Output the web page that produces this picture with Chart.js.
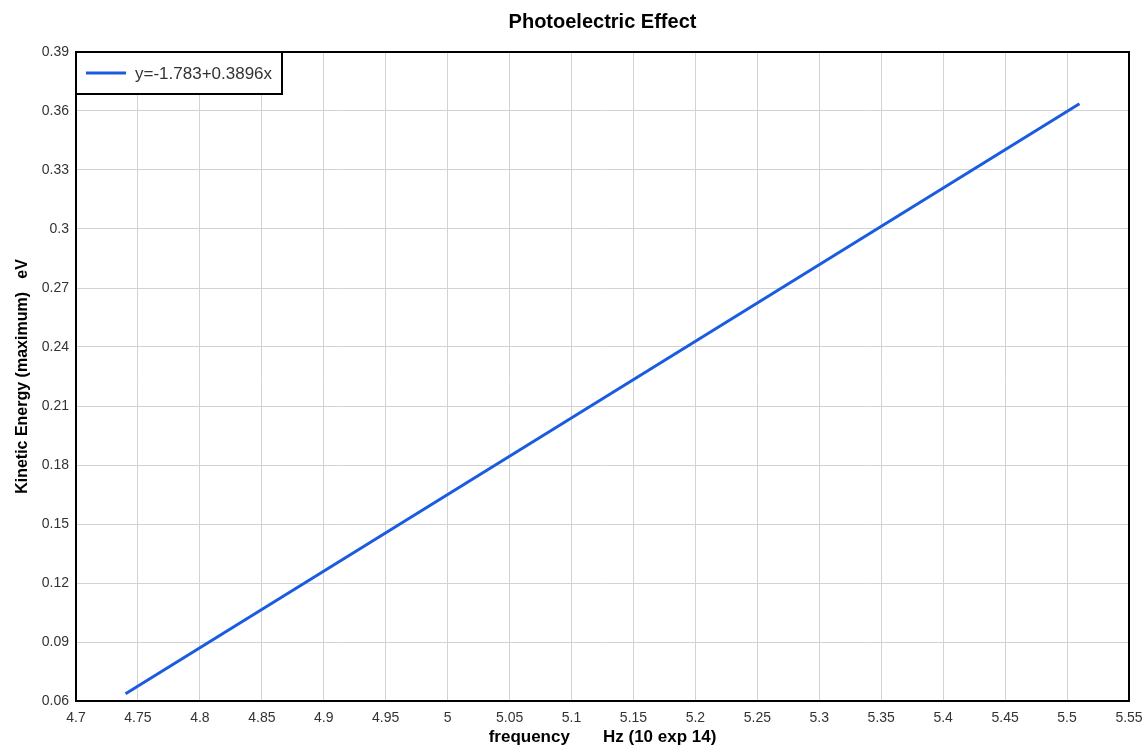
<!DOCTYPE html>
<html>
<head>
<meta charset="utf-8">
<script src="https://cdn.jsdelivr.net/npm/chart.js@4.4.1/dist/chart.umd.min.js"></script>
<style>
  html, body { margin:0; padding:0; background:#fff; }
  #wrap { width:1143px; height:746px; }
</style>
</head>
<body>
<div id="wrap"><canvas id="chart" width="1143" height="746"></canvas></div>
<script>
// Photoelectric effect: fitted line y = -1.783 + 0.3896x
const fitLabel = 'y=-1.783+0.3896x';
const frequency = [4.74, 5.51];
const kineticEnergy = [0.0637, 0.3637];
const xTicks = { min: 4.7, max: 5.55, step: 0.05 };
const yTicks = { min: 0.06, max: 0.39, step: 0.03 };

const points = frequency.map((f, i) => ({ x: f, y: kineticEnergy[i] }));
const fmt = v => String(Number(v.toFixed(2)));

// black frame round the plot + legend box in the top-left corner
const framePlugin = {
  id: 'frame',
  afterDraw(chart){
    const { ctx, chartArea: a } = chart;
    ctx.save();
    ctx.strokeStyle = '#000'; ctx.lineWidth = 2;
    ctx.strokeRect(a.left, a.top, a.right - a.left, a.bottom - a.top);
    // legend
    const bx = a.left, by = a.top, bw = 206, bh = 42;
    ctx.fillStyle = '#fff';
    ctx.fillRect(bx, by, bw, bh);
    ctx.strokeRect(bx, by, bw, bh);
    const ds = chart.data.datasets[0];
    ctx.strokeStyle = ds.borderColor; ctx.lineWidth = 3;
    ctx.beginPath(); ctx.moveTo(bx + 10, by + 21); ctx.lineTo(bx + 50, by + 21); ctx.stroke();
    ctx.fillStyle = '#333';
    ctx.font = '17px "Liberation Sans", Arial, sans-serif';
    ctx.textBaseline = 'middle';
    ctx.fillText(ds.label, bx + 59, by + 22);
    ctx.restore();
  }
};

new Chart(document.getElementById('chart'), {
  type: 'scatter',
  data: {
    datasets: [{
      label: fitLabel,
      data: points,
      showLine: true,
      borderColor: '#1a5ce0',
      backgroundColor: '#1a5ce0',
      borderWidth: 3,
      pointRadius: 0,
      fill: false
    }]
  },
  options: {
    responsive: false,
    animation: false,
    layout: { padding: { top: 0, right: 0, bottom: 0, left: 0 } },
    plugins: {
      legend: { display: false },
      tooltip: { enabled: false },
      title: {
        display: true,
        text: 'Photoelectric Effect',
        fullSize: false,
        color: '#000',
        font: { family: '"Liberation Sans", Arial, sans-serif', size: 20, weight: 'bold', lineHeight: 1.2 },
        padding: { top: 10, bottom: 18 }
      }
    },
    scales: {
      x: {
        type: 'linear',
        min: xTicks.min, max: xTicks.max,
        afterFit(s){ s.height = 45; s.paddingLeft = 0; s.paddingRight = 14; },
        grid: { color: '#d3d3d3', lineWidth: 1, drawTicks: false },
        border: { display: false },
        ticks: {
          stepSize: xTicks.step, padding: 9, color: '#333', maxRotation: 0, autoSkip: false,
          font: { family: '"Liberation Sans", Arial, sans-serif', size: 14 },
          callback: v => fmt(v)
        },
        title: {
          display: true,
          text: 'frequency       Hz (10 exp 14)',
          color: '#000',
          font: { family: '"Liberation Sans", Arial, sans-serif', size: 17, weight: 'bold', lineHeight: 1 },
          padding: { top: 0, bottom: 0 }
        }
      },
      y: {
        type: 'linear',
        min: yTicks.min, max: yTicks.max,
        afterFit(s){ s.width = 76; s.paddingTop = 0; s.paddingBottom = 0; },
        grid: { color: '#d3d3d3', lineWidth: 1, drawTicks: false },
        border: { display: false },
        ticks: {
          stepSize: yTicks.step, padding: 7, color: '#333', autoSkip: false,
          font: { family: '"Liberation Sans", Arial, sans-serif', size: 14 },
          callback: v => fmt(v)
        },
        title: {
          display: true,
          text: 'Kinetic Energy (maximum)   eV',
          color: '#000',
          font: { family: '"Liberation Sans", Arial, sans-serif', size: 16, weight: 'bold', lineHeight: 1.2 },
          padding: { top: 13, bottom: 0 }
        }
      }
    }
  },
  plugins: [framePlugin]
});
</script>
</body>
</html>
